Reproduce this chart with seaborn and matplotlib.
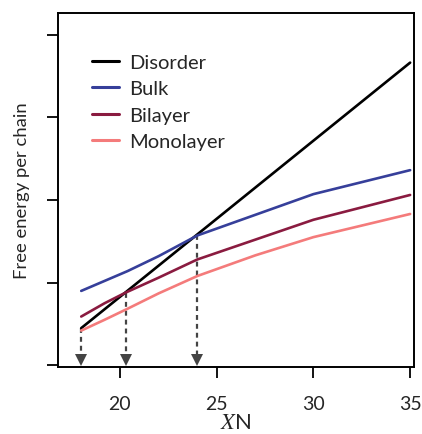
import numpy as np
import pandas as pd
import matplotlib
matplotlib.use("Agg")
import matplotlib.pyplot as plt
import seaborn as sns

# ---- data ----
disorder_x = [18, 35]
disorder_y = [0.45, 3.66]
bulk_x = [18, 19.2, 20.4, 22, 24, 27, 30, 35]
bulk_y = [0.90, 1.02, 1.14, 1.32, 1.57, 1.82, 2.07, 2.36]
bilayer_x = [18, 19.2, 20.3, 22, 24, 27, 30, 35]
bilayer_y = [0.59, 0.75, 0.88, 1.06, 1.28, 1.52, 1.76, 2.06]
mono_x = [18, 19.2, 20.4, 22, 24, 27, 30, 35]
mono_y = [0.42, 0.55, 0.685, 0.87, 1.08, 1.33, 1.55, 1.83]
series = ["Disorder", "Bulk", "Bilayer", "Monolayer"]
colors = ["#000000", "#363f9a", "#8a1b40", "#f47b7b"]
arrow_x = [18, 20.3, 24]
arrow_top = [0.45, 0.88, 1.58]
xticks = [20, 25, 30, 35]
yticks = [0, 1, 2, 3, 4]

rows = []
for name, xs, ys in zip(series, [disorder_x, bulk_x, bilayer_x, mono_x],
                        [disorder_y, bulk_y, bilayer_y, mono_y]):
    for a, b in zip(xs, ys):
        rows.append({"xN": a, "F": b, "phase": name})
df = pd.DataFrame(rows)

sns.set_style("ticks")
plt.rcParams["font.family"] = ["Lato", "DejaVu Sans"]
plt.rcParams["mathtext.fontset"] = "stix"

fig = plt.figure(figsize=(4.22, 4.35), dpi=100)
ax = fig.add_axes([58/422, 1 - 368/435, (414-58)/422, (368-14)/435])

sns.lineplot(data=df, x="xN", y="F", hue="phase", hue_order=series,
             palette=colors, linewidth=1.9, ax=ax, sort=True, estimator=None)

for xa, ya in zip(arrow_x, arrow_top):
    ax.plot([xa, xa], [ya, 0.12], color="#444444", linewidth=1.6,
            linestyle=(0, (2.2, 1.8)), zorder=1)
    ax.plot([xa], [0.07], marker="v", markersize=8, color="#444444",
            markeredgewidth=0, zorder=1)

ax.set_xlim(16.8, 35.2)
ax.set_ylim(-0.02, 4.26)
ax.set_xticks(xticks)
ax.set_xticklabels([str(t) for t in xticks], fontsize=14)
ax.set_yticks(yticks)
ax.set_yticklabels([])
ax.tick_params(axis="both", direction="out", length=8, width=1.3, color="black")
ax.tick_params(axis="x", pad=12)
for s in ax.spines.values():
    s.set_visible(True)
    s.set_linewidth(1.4)
    s.set_color("black")

ax.set_xlabel(r"$X$N", fontsize=16, labelpad=0)
ax.set_ylabel("Free energy per chain", fontsize=13.3, labelpad=9)

leg = ax.legend(loc="upper left", bbox_to_anchor=(0.045, 0.935), frameon=False,
                fontsize=14.5, handlelength=1.35, handletextpad=0.5,
                labelspacing=0.45)
for line in leg.get_lines():
    line.set_linewidth(2.2)

fig.savefig("out.png", dpi=100)
